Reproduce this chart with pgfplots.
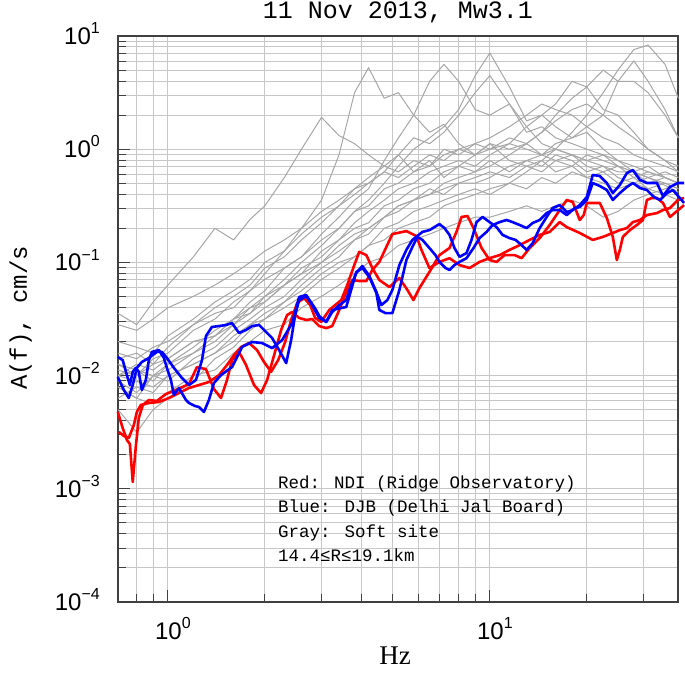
\documentclass[border=0pt]{standalone}
\usepackage{fontspec}
\setmainfont{Liberation Serif}
\newfontfamily\cour{Liberation Mono}
\newfontfamily\helv{Liberation Sans}
\usepackage{pgfplots}
\pgfplotsset{compat=1.18}
\usepackage{pgfplotstable}

% power-of-ten tick label in the text font
\newcommand{\pw}[1]{{\helv\fontsize{24}{24}\selectfont 10\raisebox{0.45em}{\fontsize{16}{16}\selectfont #1}}}

% soft-site spectra (gray), A(f) in cm/s
\pgfplotstableread{
f    g1     g2     g3      g4      g5     g6      g7      g8     g9     g10     g11     g12    g13    g14     g15    g16
0.7  0.0355 0.0126 0.00794 0.0100  0.0141 0.00631 0.00891 0.0112 0.0158 0.0100  0.00794 0.0200 0.0282 0.00501 0.0126 0.0100
0.8  0.0282 0.0100 0.00631 0.0112  0.0158 0.00794 0.00708 0.0100 0.0141 0.00891 0.00631 0.0178 0.0251 0.00316 0.0112 0.0126
0.9  0.0447 0.0141 0.0100  0.00891 0.0126 0.00708 0.0100  0.0126 0.0178 0.00794 0.00562 0.0158 0.0316 0.00501 0.0100 0.0112
1.0  0.0631 0.0158 0.0112  0.0126  0.0178 0.0100  0.00891 0.0141 0.0200 0.0100  0.00708 0.0224 0.0398 0.00631 0.0126 0.0141
1.2  0.112  0.0251 0.0158  0.0178  0.0282 0.0126  0.0141  0.0200 0.0282 0.0126  0.0100  0.0316 0.0501 0.00891 0.0158 0.0200
1.4  0.200  0.0316 0.0200  0.0251  0.0398 0.0158  0.0178  0.0224 0.0355 0.0158  0.0112  0.0447 0.0631 0.0141  0.0224 0.0224
1.6  0.158  0.0447 0.0282  0.0316  0.0501 0.0224  0.0251  0.0316 0.0398 0.0200  0.0158  0.0562 0.0794 0.0178  0.0282 0.0316
1.8  0.240  0.0562 0.0398  0.0447  0.0631 0.0282  0.0316  0.0355 0.0562 0.0282  0.0200  0.0708 0.100  0.0251  0.0355 0.0398
2.0  0.316  0.0794 0.0501  0.0562  0.0891 0.0316  0.0398  0.0501 0.0708 0.0355  0.0251  0.100  0.126  0.0316  0.0447 0.0447
2.3  0.562  0.126  0.0708  0.0891  0.112  0.0447  0.0501  0.0631 0.0891 0.0447  0.0282  0.126  0.158  0.0398  0.0631 0.0631
2.6  1.00   0.200  0.100   0.112   0.158  0.0562  0.0708  0.0891 0.112  0.0631  0.0398  0.178  0.200  0.0501  0.0794 0.0794
3.0  1.91   0.355  0.141   0.178   0.224  0.0794  0.100   0.112  0.158  0.0891  0.0501  0.251  0.282  0.0708  0.126  0.100
3.4  1.32   0.891  0.200   0.251   0.316  0.100   0.126   0.158  0.200  0.112   0.0631  0.316  0.355  0.0891  0.158  0.141
3.8  1.12   3.16   0.282   0.355   0.398  0.112   0.158   0.200  0.282  0.158   0.0794  0.447  0.447  0.112   0.224  0.178
4.2  0.891  5.25   0.355   0.447   0.501  0.141   0.200   0.224  0.316  0.178   0.100   0.501  0.562  0.141   0.282  0.200
4.7  0.708  2.82   0.501   0.794   0.631  0.158   0.251   0.316  0.447  0.251   0.112   0.631  0.708  0.200   0.355  0.251
5.2  0.891  3.16   0.708   1.26    0.891  0.200   0.282   0.355  0.501  0.316   0.141   0.562  0.631  0.224   0.447  0.316
5.8  0.631  2.00   1.00    2.00    1.26   0.224   0.355   0.447  0.631  0.355   0.158   0.708  0.794  0.282   0.501  0.355
6.5  0.794  1.41   1.26    3.98    1.12   0.251   0.398   0.501  0.708  0.447   0.178   0.891  0.708  0.316   0.631  0.398
7.2  0.562  1.66   1.58    5.62    1.41   0.316   0.501   0.631  0.891  0.398   0.200   0.794  1.00   0.355   0.708  0.447
8.0  0.708  1.12   2.24    3.98    2.00   0.355   0.562   0.708  1.00   0.501   0.224   1.00   0.891  0.398   0.794  0.501
9.0  0.631  0.891  4.47    2.24    3.16   0.398   0.631   0.891  1.12   0.562   0.251   0.891  1.12   0.447   0.708  0.501
10   0.794  1.12   7.08    2.00    4.47   0.447   0.708   1.00   1.26   0.631   0.251   1.12   1.00   0.398   0.891  0.562
11.5 0.631  0.794  3.55    2.51    2.51   0.501   0.891   1.12   1.58   0.562   0.282   1.00   1.26   0.501   1.12   0.708
13   0.794  0.708  1.78    1.58    1.41   0.631   1.12    1.58   2.00   0.708   0.316   1.12   1.12   0.447   1.00   0.794
14.5 0.708  0.794  2.00    1.12    1.58   0.794   1.41    2.00   2.51   0.631   0.282   0.891  1.41   0.562   0.891  0.891
16   0.891  0.631  1.58    1.00    1.26   1.00    2.00    2.51   2.24   0.794   0.316   1.00   1.78   0.501   0.794  1.12
18   0.794  0.708  1.26    0.891   1.12   1.41    2.82    3.98   2.00   0.708   0.355   0.891  2.24   0.631   0.891  1.26
20   0.631  0.562  1.41    0.794   1.00   2.00    3.55    3.55   1.58   0.891   0.316   0.794  2.51   0.562   0.708  1.58
22.5 0.708  0.631  1.00    0.891   0.891  3.16    5.01    2.24   1.26   0.794   0.251   0.708  2.00   0.501   0.631  2.00
25   0.562  0.501  0.794   0.708   0.794  5.01    3.98    2.00   1.12   0.708   0.282   0.631  1.58   0.447   0.708  3.98
28   0.501  0.562  0.708   0.631   0.631  7.59    3.98    1.41   0.891  0.631   0.355   0.631  1.26   0.501   0.562  6.03
31   0.562  0.447  0.631   0.708   0.562  8.32    3.16    1.00   0.794  0.562   0.398   0.501  1.00   0.447   0.631  3.98
35   0.479  0.501  0.562   0.562   0.631  5.62    2.00    0.794  0.708  0.501   0.447   0.562  0.794  0.398   0.562  2.24
38.5 0.417  0.447  0.501   0.501   0.562  2.82    1.26    0.631  0.631  0.447   0.501   0.501  0.708  0.355   0.501  1.26
}\soft

\begin{document}
\begin{tikzpicture}
\useasboundingbox (-118pt,-71pt) rectangle (567pt,602pt);
\begin{axis}[
  at={(0pt,0pt)}, anchor=south west,
  scale only axis, width=560pt, height=566pt,
  xmode=log, ymode=log,
  xmin=0.7, xmax=38.4, ymin=1e-4, ymax=10,
  xtick={1,10}, xticklabels={\pw{0},\pw{1}},
  ytick={1e-4,1e-3,1e-2,1e-1,1,10},
  yticklabels={\pw{−4},\pw{−3},\pw{−2},\pw{−1},\pw{0},\pw{1}},
  minor xtick={0.8,0.9,2,3,4,5,6,7,8,9,20,30},
  minor ytick={2e-4,3e-4,4e-4,5e-4,6e-4,7e-4,8e-4,9e-4,
               2e-3,3e-3,4e-3,5e-3,6e-3,7e-3,8e-3,9e-3,
               0.02,0.03,0.04,0.05,0.06,0.07,0.08,0.09,
               0.2,0.3,0.4,0.5,0.6,0.7,0.8,0.9,2,3,4,5,6,7,8,9},
  grid=both,
  major grid style={black!22, line width=1pt},
  minor grid style={black!22, line width=1pt},
  axis line style={black!75, line width=1.8pt},
  tick pos=left, tick align=inside,
  major tick length=12pt, minor tick length=8pt,
  every tick/.style={black!75, line width=1pt},
  yticklabel style={inner sep=0pt, anchor=base east, xshift=-18pt, yshift=-8.5pt},
  xticklabel style={inner sep=0pt, anchor=base, yshift=-37pt, xshift=5pt},
  title={11 Nov 2013, Mw3.1},
  title style={font=\cour\fontsize{25}{27}\selectfont, inner sep=0pt, at={(0.5,1.0195)}, anchor=base},
  xlabel={Hz},
  xlabel style={font=\fontsize{27}{30}\selectfont, inner sep=0pt, at={(0.495,-0.111)}, anchor=base},
  ylabel={A(f), cm/s},
  ylabel style={font=\cour\fontsize{24}{26}\selectfont, inner sep=0pt, at={(-0.1625,0.502)}, anchor=base},
  clip=false,
]
\pgfplotsinvokeforeach{1,...,16}{
  \addplot[black!35, line width=1pt, line join=round] table[x=f, y=g#1]{\soft};
}

% NDI (Ridge Observatory)
\addplot[red, line width=2.6pt, line join=round] coordinates {
(0.699,0.00477) (0.724,0.00344) (0.746,0.00270) (0.762,0.00249) (0.778,0.00115)
(0.795,0.00234) (0.812,0.00422) (0.836,0.00550) (0.873,0.00609) (0.924,0.00597)
(0.986,0.00688) (1.059,0.00746) (1.163,0.00843) (1.231,0.0119) (1.313,0.0114)
(1.390,0.00761) (1.462,0.00634) (1.526,0.00914) (1.582,0.0137) (1.663,0.0162)
(1.749,0.0124) (1.852,0.00826) (1.947,0.00702) (2.033,0.00914) (2.138,0.0152)
(2.248,0.0253) (2.346,0.0343) (2.432,0.0365) (2.557,0.0323) (2.689,0.0310)
(2.806,0.0316) (2.951,0.0274) (3.103,0.0263) (3.239,0.0274) (3.406,0.0380)
(3.581,0.0548) (3.739,0.0699) (3.931,0.0685) (4.134,0.0685) (4.314,0.0857)
(4.537,0.101) (4.980,0.178) (5.505,0.189) (5.914,0.171) (6.130,0.129)
(6.491,0.0892) (6.973,0.101) (7.492,0.109) (8.048,0.0948) (8.646,0.0892)
(9.288,0.101) (9.98,0.109) (10.72,0.116) (11.51,0.129) (12.37,0.142)
(13.29,0.158) (14.28,0.175) (15.34,0.186) (16.48,0.227) (17.33,0.205)
(19.02,0.182) (20.87,0.158) (22.43,0.168) (24.09,0.182) (25.33,0.193)
(26.64,0.201) (27.81,0.227) (29.24,0.237) (30.74,0.262) (33.03,0.273)
(34.48,0.290) (36.25,0.302) (38.40,0.356) (40.09,0.371)};
\addplot[red, line width=2.6pt, line join=round] coordinates {
(0.704,0.00318) (0.730,0.00293) (0.756,0.00281) (0.784,0.00366) (0.801,0.00477)
(0.824,0.00550) (0.873,0.00573) (0.938,0.00585) (1.007,0.00634) (1.082,0.00702)
(1.163,0.00777) (1.249,0.00826) (1.341,0.00878) (1.441,0.0101) (1.526,0.0124)
(1.605,0.0152) (1.688,0.0179) (1.787,0.0194) (1.892,0.0168) (1.989,0.0132)
(2.092,0.0108) (2.200,0.0137) (2.313,0.0198) (2.414,0.0310) (2.520,0.0438)
(2.651,0.0485) (2.767,0.0420) (2.867,0.0323) (2.994,0.0298) (3.171,0.0380)
(3.310,0.0420) (3.455,0.0465) (3.607,0.0632) (3.793,0.0948) (3.931,0.124)
(4.134,0.116) (4.314,0.0892) (4.537,0.0699) (4.874,0.0606) (5.236,0.0728)
(5.545,0.0571) (5.788,0.0465) (6.043,0.0594) (6.491,0.0823) (6.973,0.116)
(7.492,0.134) (7.877,0.186) (8.163,0.252) (8.523,0.257) (8.897,0.201)
(9.423,0.134) (9.98,0.105) (10.49,0.101) (11.11,0.116) (11.94,0.116)
(12.55,0.109) (13.29,0.134) (14.28,0.164) (15.34,0.214) (16.48,0.290)
(17.33,0.356) (18.09,0.342) (19.02,0.237) (19.57,0.262) (20.00,0.335)
(21.95,0.335) (23.08,0.247) (24.09,0.168) (24.79,0.105) (25.33,0.129)
(25.88,0.168) (27.21,0.193) (28.61,0.214) (29.88,0.237) (30.74,0.356)
(31.87,0.371) (33.03,0.371) (34.48,0.335) (36.25,0.252) (37.84,0.279)
(40.09,0.321)};

% DJB (Delhi Jal Board)
\addplot[blue, line width=2.6pt, line join=round] coordinates {
(0.699,0.0146) (0.724,0.0137) (0.746,0.0101) (0.762,0.00826) (0.778,0.0108)
(0.795,0.0117) (0.812,0.0108) (0.830,0.00746) (0.854,0.00914) (0.873,0.0137)
(0.892,0.0162) (0.938,0.0168) (0.972,0.0143) (0.993,0.0117) (1.022,0.00914)
(1.044,0.00674) (1.082,0.00777) (1.138,0.00609) (1.163,0.00573) (1.213,0.00539)
(1.249,0.00528) (1.294,0.00477) (1.341,0.00609) (1.390,0.00860) (1.462,0.0101)
(1.582,0.0119) (1.700,0.0179) (1.826,0.0198) (1.961,0.0194) (2.107,0.0175)
(2.264,0.0206) (2.432,0.0291) (2.557,0.0495) (2.689,0.0515) (2.887,0.0380)
(2.951,0.0336) (3.103,0.0298) (3.239,0.0380) (3.581,0.0404) (3.848,0.0823)
(4.017,0.0892) (4.224,0.0743) (4.441,0.0537) (4.537,0.0380) (4.736,0.0357)
(4.980,0.0357) (5.236,0.0571) (5.505,0.105) (5.747,0.137) (5.957,0.168)
(6.174,0.158) (6.491,0.134) (6.776,0.116) (6.973,0.101) (7.280,0.0892)
(7.492,0.0857) (7.765,0.0948) (8.048,0.101) (8.462,0.109) (8.897,0.134)
(9.288,0.164) (9.766,0.186) (10.20,0.214) (10.72,0.227) (11.27,0.237)
(11.76,0.227) (12.37,0.214) (13.01,0.201) (13.58,0.223) (14.28,0.237)
(15.01,0.273) (15.67,0.290) (16.48,0.290) (17.33,0.262) (18.35,0.302)
(19.02,0.309) (20.00,0.356) (20.87,0.503) (21.95,0.473) (23.08,0.436)
(24.09,0.356) (25.33,0.410) (26.64,0.464) (27.81,0.503) (29.24,0.454)
(30.74,0.436) (32.33,0.378) (33.75,0.356) (35.48,0.410) (37.04,0.436)
(38.68,0.378) (40.09,0.335)};
\addplot[blue, line width=2.6pt, line join=round] coordinates {
(0.699,0.00972) (0.730,0.00746) (0.756,0.00634) (0.778,0.00826) (0.801,0.0117)
(0.830,0.0132) (0.873,0.0143) (0.924,0.0162) (0.958,0.0162) (0.993,0.0143)
(1.044,0.0117) (1.106,0.00952) (1.163,0.00826) (1.222,0.00914) (1.276,0.0137)
(1.313,0.0224) (1.370,0.0269) (1.441,0.0274) (1.515,0.0280) (1.582,0.0291)
(1.663,0.0238) (1.749,0.0253) (1.826,0.0274) (1.920,0.0280) (2.018,0.0243)
(2.107,0.0215) (2.216,0.0168) (2.330,0.0129) (2.414,0.0206) (2.484,0.0343)
(2.557,0.0465) (2.689,0.0505) (2.806,0.0420) (2.951,0.0323) (3.103,0.0298)
(3.239,0.0365) (3.406,0.0420) (3.581,0.0465) (3.712,0.0632) (3.848,0.0806)
(4.017,0.0929) (4.224,0.0758) (4.441,0.0548) (4.602,0.0420) (4.805,0.0465)
(4.980,0.0571) (5.236,0.0948) (5.505,0.129) (5.747,0.158) (6.174,0.186)
(6.491,0.193) (6.973,0.218) (7.228,0.201) (7.492,0.175) (7.765,0.134)
(8.048,0.112) (8.462,0.121) (8.770,0.158) (9.090,0.227) (9.490,0.252)
(9.98,0.227) (10.49,0.205) (10.95,0.175) (11.51,0.164) (12.02,0.158)
(12.55,0.142) (13.01,0.129) (13.58,0.148) (14.28,0.201) (15.01,0.252)
(15.67,0.302) (16.48,0.321) (17.33,0.279) (18.09,0.290) (19.02,0.321)
(20.00,0.378) (20.87,0.592) (21.95,0.580) (23.08,0.503) (24.09,0.410)
(25.33,0.483) (26.64,0.616) (27.81,0.655) (29.24,0.535) (30.74,0.503)
(33.03,0.503) (34.48,0.386) (36.25,0.464) (38.40,0.503) (40.09,0.503)};

\node[anchor=base west, inner sep=0pt, font=\cour\fontsize{17.5}{20}\selectfont]
  at (rel axis cs:0.2857,0.2014) {Red: NDI (Ridge Observatory)};
\node[anchor=base west, inner sep=0pt, font=\cour\fontsize{17.5}{20}\selectfont]
  at (rel axis cs:0.2857,0.1590) {Blue: DJB (Delhi Jal Board)};
\node[anchor=base west, inner sep=0pt, font=\cour\fontsize{17.5}{20}\selectfont]
  at (rel axis cs:0.2857,0.1148) {Gray: Soft site};
\node[anchor=base west, inner sep=0pt, font=\cour\fontsize{17.5}{20}\selectfont]
  at (rel axis cs:0.2857,0.0724) {14.4≤R≤19.1km};
\end{axis}
\end{tikzpicture}
\end{document}
